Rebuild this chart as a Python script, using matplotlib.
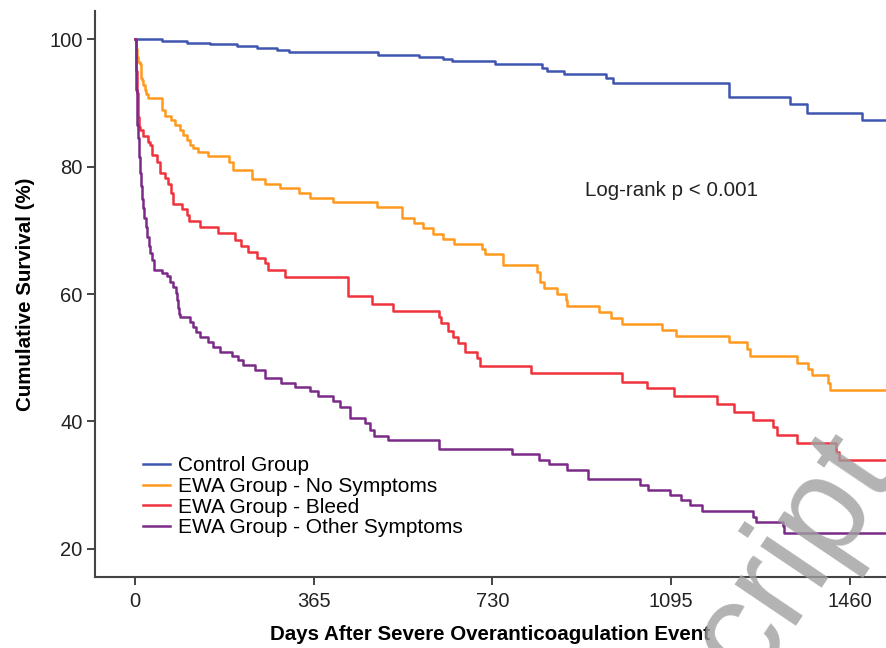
import matplotlib
matplotlib.use("Agg")
import matplotlib.pyplot as plt

plt.rcParams['font.family'] = ['Liberation Sans', 'DejaVu Sans']

# Kaplan-Meier estimates (days, survival %)
control_t = [0, 54, 106, 153, 208, 249, 289, 315, 496, 580, 629, 647, 735, 831, 841,
             876, 961, 976, 1214, 1338, 1372, 1484]
control_s = [100, 99.7, 99.5, 99.2, 98.9, 98.6, 98.3, 98.0, 97.6, 97.3, 96.9, 96.6, 96.1,
             95.5, 95.1, 94.5, 94.0, 93.1, 91.0, 89.8, 88.5, 87.3]

nosym_t = [0, 1, 3, 6, 10, 11, 12, 13, 16, 20, 23, 27, 54, 61, 74, 81, 91, 98, 105, 112,
           119, 129, 148, 192, 200, 239, 266, 296, 334, 357, 405, 494, 545, 569, 589, 608,
           629, 652, 709, 714, 751, 821, 827, 835, 861, 880, 883, 948, 972, 995, 1077,
           1104, 1214, 1251, 1256, 1352, 1375, 1382, 1416, 1420]
nosym_s = [100, 98.5, 97.3, 96.5, 96.2, 95.0, 94.0, 93.6, 92.8, 92.0, 91.4, 90.8, 88.9,
           88.0, 87.3, 86.5, 85.8, 85.0, 84.2, 83.4, 82.9, 82.3, 81.7, 80.8, 79.5, 78.0,
           77.3, 76.6, 75.8, 75.1, 74.4, 73.6, 72.0, 71.2, 70.3, 69.5, 68.6, 67.9, 67.1,
           66.3, 64.5, 63.5, 61.9, 60.9, 60.0, 59.1, 58.1, 57.2, 56.2, 55.3, 54.3, 53.4,
           52.4, 51.3, 50.3, 49.2, 48.2, 47.3, 46.1, 44.9]

bleed_t = [0, 1, 2, 3, 4, 5, 6, 7, 10, 16, 27, 30, 35, 44, 50, 61, 67, 74, 78, 95, 105,
           110, 132, 170, 204, 217, 231, 248, 265, 272, 306, 435, 484, 526, 620, 624, 640,
           650, 660, 674, 699, 705, 808, 995, 1046, 1100, 1188, 1223, 1262, 1304, 1312,
           1352, 1432, 1437]
bleed_s = [100, 97.5, 95.0, 93.6, 91.5, 89.5, 87.8, 86.3, 85.7, 84.8, 83.9, 83.4, 81.8,
           80.8, 79.0, 78.2, 77.3, 75.8, 74.2, 73.3, 72.4, 71.4, 70.6, 69.6, 68.5, 67.5,
           66.6, 65.7, 64.8, 63.8, 62.7, 59.7, 58.5, 57.4, 56.4, 55.5, 54.2, 53.3, 52.3,
           50.9, 49.9, 48.7, 47.6, 46.2, 45.2, 44.0, 42.7, 41.4, 40.2, 39.1, 37.9, 36.6,
           35.2, 34.0]

other_t = [0, 1, 2, 3, 4, 5, 7, 9, 11, 13, 16, 19, 22, 25, 28, 31, 35, 39, 54, 66, 71,
           78, 84, 86, 88, 90, 91, 112, 119, 125, 132, 149, 159, 173, 197, 210, 221, 245,
           265, 299, 326, 357, 374, 405, 419, 439, 470, 480, 488, 517, 620, 769, 825, 846,
           882, 926, 1032, 1048, 1093, 1115, 1134, 1158, 1263, 1268, 1323, 1326]
other_s = [100, 96.0, 92.0, 89.0, 86.5, 84.5, 81.5, 79.0, 77.0, 75.0, 73.5, 72.0, 70.5,
           69.0, 67.5, 66.5, 65.3, 63.8, 63.3, 62.9, 61.9, 61.1, 60.1, 59.0, 57.8, 56.9,
           56.4, 55.6, 54.9, 54.1, 53.3, 52.5, 51.7, 50.9, 50.3, 49.6, 48.8, 48.1, 46.8,
           46.1, 45.4, 44.7, 44.0, 43.2, 42.3, 40.6, 39.7, 38.7, 37.7, 37.1, 35.7, 34.9,
           34.0, 33.3, 32.4, 30.9, 30.0, 29.3, 28.4, 27.6, 26.9, 26.0, 25.0, 24.2, 23.5,
           22.5]

followup_end = 1540
labels = ["Control Group", "EWA Group - No Symptoms", "EWA Group - Bleed",
          "EWA Group - Other Symptoms"]
colors = ["#3F55B0", "#FF9A1E", "#F0323C", "#7B2A88"]
xticks = [0, 365, 730, 1095, 1460]
yticks = [20, 40, 60, 80, 100]

fig = plt.figure(figsize=(8.86, 6.48), dpi=100)
ax = fig.add_axes([95/886, 1 - 577/648, 1 - 95/886, 566/648])

series = [(control_t, control_s), (nosym_t, nosym_s), (bleed_t, bleed_s), (other_t, other_s)]
for (t, s), lab, c in zip(series, labels, colors):
    ax.step(t + [followup_end], s + [s[-1]], where="post", color=c, lw=1.8, label=lab)

ax.set_xlim(-82, 1534)
ax.set_ylim(15.56, 104.45)
ax.set_xticks(xticks)
ax.set_yticks(yticks)
for side in ["top", "right"]:
    ax.spines[side].set_visible(False)
for side in ["left", "bottom"]:
    ax.spines[side].set_color("#444444")
    ax.spines[side].set_linewidth(1.5)
ax.tick_params(direction="out", length=6, width=1.4, color="#444444",
               labelsize=14.5, labelcolor="#222222", pad=5)
ax.tick_params(axis="y", pad=3)

ax.set_xlabel("Days After Severe Overanticoagulation Event", fontsize=14.8,
              fontweight="bold", labelpad=10)
ax.set_ylabel("Cumulative Survival (%)", fontsize=14.8, fontweight="bold", labelpad=10)

ax.text(1095, 76.2, "Log-rank p < 0.001", fontsize=14.8, color="#222222",
        ha="center", va="center")

ax.legend(loc="upper left", bbox_to_anchor=(48/791, 0.213), frameon=False,
          fontsize=15, handlelength=1.3, handletextpad=0.4, labelspacing=0.08,
          borderpad=0, borderaxespad=0)

# manuscript watermark
fig.text(0.896, 0.14, "cript", fontsize=100, rotation=56, color="#A0A0A0", alpha=0.8,
         ha="center", va="center", rotation_mode="anchor", zorder=10)

fig.savefig("out.png", dpi=100)
